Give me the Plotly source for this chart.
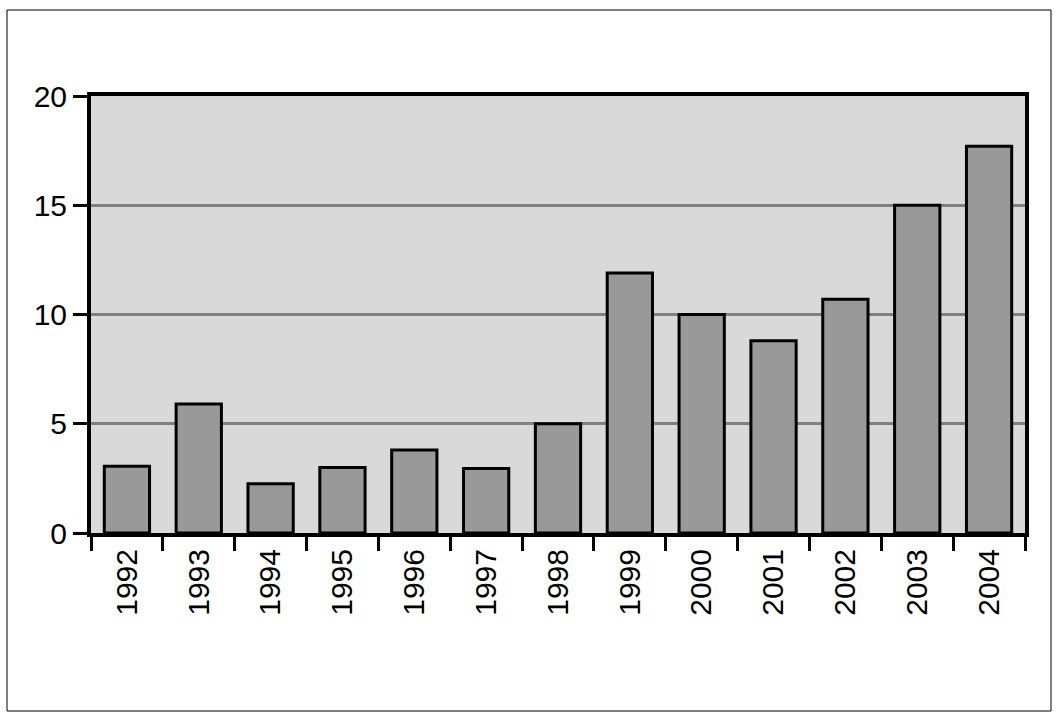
import plotly.graph_objects as go

years = ["1992", "1993", "1994", "1995", "1996", "1997", "1998",
         "1999", "2000", "2001", "2002", "2003", "2004"]
values = [3.05, 5.9, 2.25, 3.0, 3.8, 2.95, 5.0, 11.9, 10.0, 8.8, 10.7, 15.0, 17.7]
y_ticks = [0, 5, 10, 15, 20]

W, H = 1060, 721
ml, mr, mt, mb = 91, 35, 96, 188
pw, ph = W - ml - mr, H - mt - mb

fig = go.Figure(go.Bar(
    x=years, y=values,
    marker=dict(color="#999999", line=dict(color="black", width=3)),
    width=0.63,
))

fig.update_layout(
    width=W, height=H,
    margin=dict(l=ml, r=mr, t=mt, b=mb),
    paper_bgcolor="white",
    plot_bgcolor="#d9d9d9",
    font=dict(family="Liberation Sans, Arial, sans-serif", size=30, color="black"),
    showlegend=False,
    bargap=0.37,
)
fig.update_xaxes(
    type="category", tickangle=-90, tickson="boundaries",
    ticks="outside", ticklen=14, tickwidth=3, tickcolor="black",
    showline=True, linecolor="black", linewidth=4, mirror=True,
    showgrid=False,
)
fig.update_yaxes(
    range=[0, 20], tickvals=y_ticks,
    ticks="outside", ticklen=14, tickwidth=3, tickcolor="black",
    showline=True, linecolor="black", linewidth=4, mirror=True,
    showgrid=True, gridcolor="#808080", gridwidth=3, zeroline=False,
)

# outer frame around the whole chart
x0 = (7 - ml) / pw
x1 = (1051 - ml) / pw
y1 = (mt + ph - 10) / ph
y0 = (mt + ph - 711) / ph
fig.add_shape(type="rect", xref="paper", yref="paper",
              x0=x0, x1=x1, y0=y0, y1=y1,
              line=dict(color="black", width=1), layer="below")

fig.write_html("out.html",
               config={"displayModeBar": False},
               post_script="document.body.style.margin='0';document.body.style.overflow='hidden';")
